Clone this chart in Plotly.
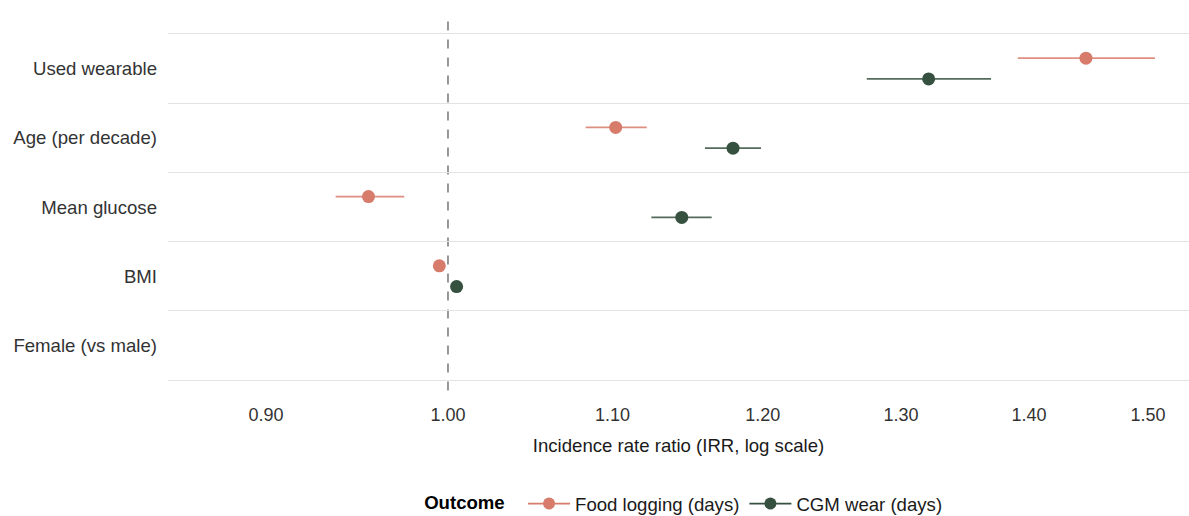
import math
import plotly.graph_objects as go

categories = ["Used wearable", "Age (per decade)", "Mean glucose", "BMI", "Female (vs male)"]
series_names = ["Food logging (days)", "CGM wear (days)"]

food_est = [1.447, 1.102, 0.955, 0.995, None]
food_lo = [1.391, 1.083, 0.937, 0.993, None]
food_hi = [1.506, 1.122, 0.975, 0.997, None]

cgm_est = [1.321, 1.1795, 1.145, 1.005, None]
cgm_lo = [1.2745, 1.1605, 1.125, 1.003, None]
cgm_hi = [1.3696, 1.1988, 1.165, 1.007, None]

tick_vals = [0.90, 1.00, 1.10, 1.20, 1.30, 1.40, 1.50]
tick_text = ["0.90", "1.00", "1.10", "1.20", "1.30", "1.40", "1.50"]

colors = ["#D77B6B", "#36513F"]
bar_colors = ["rgba(215,123,107,0.85)", "rgba(54,81,63,0.85)"]
offsets = [-0.15, 0.15]

FONT = "Liberation Sans, Arial, sans-serif"
FS = 18.6

fig = go.Figure()
pos = list(range(1, len(categories) + 1))

for name, est, lo, hi, col, bcol, off in zip(
    series_names, [food_est, cgm_est], [food_lo, cgm_lo], [food_hi, cgm_hi],
    colors, bar_colors, offsets):
    xs, ys, plus, minus = [], [], [], []
    for p, e, l, h in zip(pos, est, lo, hi):
        if e is None:
            continue
        xs.append(e)
        ys.append(p + off)
        plus.append(h - e)
        minus.append(e - l)
    fig.add_trace(go.Scatter(
        x=xs, y=ys, mode="markers", name=name, legendgroup=name, showlegend=False,
        marker=dict(color=col, size=13),
        error_x=dict(type="data", symmetric=False, array=plus, arrayminus=minus,
                     color=bcol, thickness=1.6, width=0),
        hoverinfo="x+text", text=[categories[int(round(y - off)) - 1] for y in ys],
    ))
    fig.add_trace(go.Scatter(
        x=[None], y=[None], mode="lines+markers", name=name, legendgroup=name,
        showlegend=True, marker=dict(color=col, size=12), line=dict(color=col, width=1.6),
    ))

fig.add_shape(type="line", xref="x", yref="paper", x0=1.0, x1=1.0, y0=-0.01, y1=1.03,
              line=dict(color="#7F7F7F", width=1.6, dash="dash"), layer="below")

x_lo, x_hi = 0.8503, 1.536
fig.update_layout(
    width=1189, height=516,
    margin=dict(l=168, r=0, t=27, b=129, autoexpand=False),
    paper_bgcolor="white", plot_bgcolor="white",
    font=dict(family=FONT, size=FS, color="#1a1a1a"),
    showlegend=True,
    legend=dict(
        orientation="h", x=0.506, xanchor="center", y=-0.325, yanchor="middle",
        title=dict(text="<b>Outcome</b>  ", font=dict(size=FS, color="#000000")),
        font=dict(size=FS, color="#1a1a1a"), tracegroupgap=0, itemwidth=42,
    ),
    xaxis=dict(
        type="log", range=[math.log10(x_lo), math.log10(x_hi)], automargin=False,
        tickvals=tick_vals, ticktext=tick_text, showgrid=False, zeroline=False,
        showline=False, ticks="", ticklabelstandoff=15,
        tickfont=dict(size=18, color="#333333"),
        title=dict(text="Incidence rate ratio (IRR, log scale)", standoff=14,
                   font=dict(size=FS, color="#1a1a1a")),
    ),
    yaxis=dict(
        range=[len(categories) + 0.6, 0.4], tickvals=pos, ticktext=categories,
        automargin=False,
        showgrid=False, zeroline=False, showline=False, ticks="", ticklabelstandoff=10,
        tickfont=dict(size=FS, color="#333333"),
        minor=dict(tick0=0.5, dtick=1, showgrid=True, gridcolor="#E3E3E3", gridwidth=1.3),
    ),
)

fig.write_html("out.html")
